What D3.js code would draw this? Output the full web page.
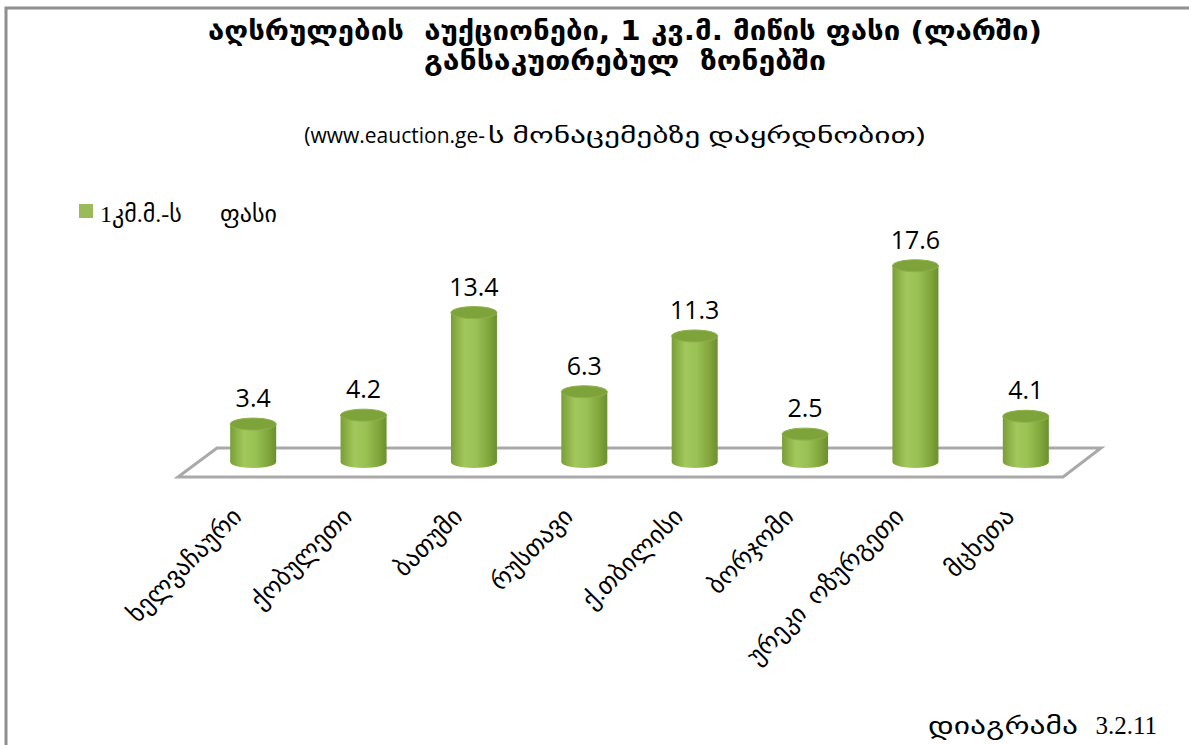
<!DOCTYPE html>
<html>
<head>
<meta charset="utf-8">
<script src="https://cdn.jsdelivr.net/npm/d3@7"></script>
<style>
  body { margin: 0; background: #fff; }
  svg { display: block; }
  text { white-space: pre; }
</style>
</head>
<body>
<div id="chart"></div>
<script>
// === data ===
var categories = ['ხელვაჩაური', 'ქობულეთი', 'ბათუმი', 'რუსთავი', 'ქ.თბილისი', 'ბორჯომი', 'ურეკი  ოზურგეთი', 'მცხეთა'];
var prices = [3.4, 4.2, 13.4, 6.3, 11.3, 2.5, 17.6, 4.1];
var titleLines = ['აღსრულების  აუქციონები, 1 კვ.მ. მიწის ფასი (ლარში)', 'განსაკუთრებულ  ზონებში'];
var subtitleParts = ['(www.eauction.ge-', 'ს მონაცემებზე დაყრდნობით)'];
var seriesName = ['1კმ.მ.-ს', 'ფასი'];
var footerParts = ['დიაგრამა', '3.2.11'];

var W = 1189, H = 745;
var GEO_SERIF = '"Liberation Serif", "DejaVu Sans", serif';
var SANS = '"Open Sans", "DejaVu Sans", sans-serif';

var svg = d3.select('#chart').append('svg')
    .attr('width', W).attr('height', H);

svg.append('rect').attr('width', W).attr('height', H).attr('fill', '#fff');

// outer frame (right / bottom edges fall outside the picture)
svg.append('rect')
    .attr('x', 6).attr('y', 8)
    .attr('width', W + 20).attr('height', H + 20)
    .attr('fill', 'none')
    .attr('stroke', '#8f8f8f')
    .attr('stroke-width', 3);

// scales
var x = d3.scaleBand().domain(categories).range([198, 1081]);
var y = d3.scaleLinear().domain([0, 20]).range([462, 239]);
var barW = 46, ry = 6;
function cxOf(c) { return x(c) + x.bandwidth() / 2; }

// gradient for cylinder body
var defs = svg.append('defs');
var grad = defs.append('linearGradient').attr('id', 'cyl')
    .attr('x1', '0%').attr('x2', '100%').attr('y1', '0%').attr('y2', '0%');
[['0%', '#7a9e36'], ['30%', '#a2c85d'], ['55%', '#99c153'], ['85%', '#7ea33a'], ['100%', '#6a8f2d']].forEach(function(s) {
    grad.append('stop').attr('offset', s[0]).attr('stop-color', s[1]);
});

// floor
var r0 = x.range()[0], r1 = x.range()[1], fy0 = y(0) - 14, fy1 = y(0) + 15;
svg.append('path')
    .attr('d', 'M' + (r0 + 19) + ',' + fy0 + 'L' + (r1 + 20) + ',' + fy0 +
        'L' + (r1 - 18) + ',' + fy1 + 'L' + (r0 - 20) + ',' + fy1 + 'Z')
    .attr('fill', 'none')
    .attr('stroke', '#a9a9a9')
    .attr('stroke-width', 3);

// cylinders
var bars = svg.append('g').selectAll('g').data(prices).enter().append('g');

bars.append('path')
    .attr('d', function(d, i) {
        var cx = cxOf(categories[i]);
        var l = cx - barW / 2, r = cx + barW / 2;
        var yt = y(d), yb = y(0);
        return 'M' + l + ',' + yt + 'L' + l + ',' + yb +
            'A' + (barW / 2) + ',' + ry + ' 0 0 0 ' + r + ',' + yb +
            'L' + r + ',' + yt + 'Z';
    })
    .attr('fill', 'url(#cyl)');

bars.append('ellipse')
    .attr('cx', function(d, i) { return cxOf(categories[i]); })
    .attr('cy', function(d) { return y(d); })
    .attr('rx', barW / 2).attr('ry', ry)
    .attr('fill', '#7fa33b')
    .attr('stroke', '#8cb247')
    .attr('stroke-width', 1);

// value labels
bars.append('text')
    .attr('x', function(d, i) { return cxOf(categories[i]); })
    .attr('y', function(d) { return y(d) - 17; })
    .attr('text-anchor', 'middle')
    .attr('font-family', SANS)
    .attr('font-size', '25px')
    .attr('fill', '#000')
    .text(function(d) { return d.toFixed(1); });

// category labels, rotated
svg.append('g').selectAll('text').data(categories).enter().append('text')
    .attr('transform', function(d) {
        return 'translate(' + (cxOf(d) - 10) + ',518) rotate(-45)';
    })
    .attr('text-anchor', 'end')
    .attr('font-family', GEO_SERIF)
    .attr('font-size', '25px')
    .attr('fill', '#000')
    .text(function(d) { return d; });

// title
var titleWidths = [834, 402];
svg.append('g').selectAll('text').data(titleLines).enter().append('text')
    .attr('x', function(d, i) { return 625 - titleWidths[i] / 2; })
    .attr('y', function(d, i) { return 40 + i * 30; })
    .attr('textLength', function(d, i) { return titleWidths[i]; })
    .attr('lengthAdjust', 'spacingAndGlyphs')
    .attr('font-family', '"DejaVu Sans", sans-serif')
    .attr('font-weight', 'bold')
    .attr('font-size', '26px')
    .attr('fill', '#000')
    .text(function(d) { return d; });

// subtitle: latin part + georgian part
svg.append('text')
    .attr('x', 485).attr('y', 143)
    .attr('text-anchor', 'end')
    .attr('font-family', SANS)
    .attr('font-size', '21px')
    .attr('fill', '#000')
    .text(subtitleParts[0]);
svg.append('text')
    .attr('x', 488).attr('y', 143)
    .attr('textLength', 437)
    .attr('lengthAdjust', 'spacingAndGlyphs')
    .attr('font-family', SANS)
    .attr('font-size', '21px')
    .attr('fill', '#000')
    .text(subtitleParts[1]);

// legend
svg.append('rect')
    .attr('x', 79).attr('y', 204).attr('width', 14).attr('height', 14)
    .attr('fill', '#9bbb59');
svg.append('text')
    .attr('x', 100).attr('y', 222)
    .attr('font-family', GEO_SERIF)
    .attr('font-size', '24px')
    .attr('fill', '#000')
    .text(seriesName[0]);
svg.append('text')
    .attr('x', 220).attr('y', 222)
    .attr('font-family', GEO_SERIF)
    .attr('font-size', '24px')
    .attr('fill', '#000')
    .text(seriesName[1]);

// footer
svg.append('text')
    .attr('x', 928).attr('y', 734)
    .attr('textLength', 150)
    .attr('lengthAdjust', 'spacingAndGlyphs')
    .attr('font-family', GEO_SERIF)
    .attr('font-size', '24px')
    .attr('fill', '#000')
    .text(footerParts[0]);
svg.append('text')
    .attr('x', 1157).attr('y', 734)
    .attr('text-anchor', 'end')
    .attr('font-family', GEO_SERIF)
    .attr('font-size', '25px')
    .attr('fill', '#000')
    .text(footerParts[1]);
</script>
</body>
</html>
